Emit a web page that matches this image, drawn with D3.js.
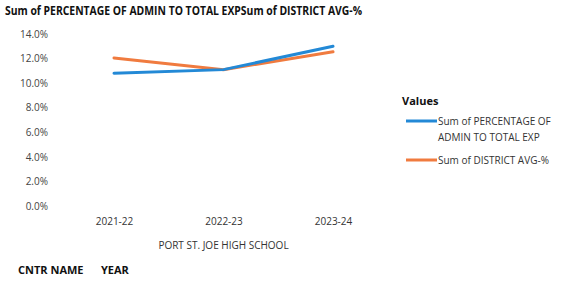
<!DOCTYPE html>
<html><head><meta charset="utf-8">
<script src="https://cdn.jsdelivr.net/npm/d3@7"></script>
<style>body{margin:0;background:#fff}text{font-family:"Open Sans","Liberation Sans",sans-serif}</style>
</head><body>
<svg id="c" width="571" height="287"></svg>
<script>
const categories = ["2021-22","2022-23","2023-24"];
const adminPct = [10.8, 11.1, 13.0];
const districtAvg = [12.05, 11.1, 12.55];
const seriesNames = ["Sum of PERCENTAGE OF ADMIN TO TOTAL EXP","Sum of DISTRICT AVG-%"];
const yTicks = [0,2,4,6,8,10,12,14];
const groupLabel = "PORT ST. JOE HIGH SCHOOL";
const colors = ["#2389d6","#f07b3f"];

const svg = d3.select("#c");
const x = d3.scalePoint().domain(categories).range([114,333]);
const y = d3.scaleLinear().domain([0,14]).range([206,34]);

svg.append("text").attr("x",5).attr("y",15).attr("font-size",12).attr("font-weight","bold")
  .attr("fill","#111").attr("textLength",357).attr("lengthAdjust","spacingAndGlyphs")
  .text(seriesNames[0]+seriesNames[1]);

const ya = svg.append("g").attr("transform","translate(48,0)")
  .call(d3.axisLeft(y).tickValues(yTicks).tickSize(0).tickPadding(0).tickFormat(d=>d.toFixed(1)+"%"));
ya.select(".domain").remove();
ya.selectAll("text").attr("font-size",10).attr("fill","#444").attr("font-family","'Open Sans',sans-serif");

const xa = svg.append("g").attr("transform","translate(0,218)")
  .call(d3.axisBottom(x).tickSize(0).tickPadding(0));
xa.select(".domain").remove();
xa.selectAll("text").attr("font-size",10).attr("fill","#333").attr("dy","0.71em").attr("font-family","'Open Sans',sans-serif");

svg.append("text").attr("x",x(categories[1])).attr("y",249).attr("text-anchor","middle")
  .attr("font-size",10).attr("fill","#333").text(groupLabel);

svg.append("text").attr("x",18).attr("y",274).attr("font-size",11).attr("font-weight","bold").attr("fill","#111").text("CNTR NAME");
svg.append("text").attr("x",101).attr("y",274).attr("font-size",11).attr("font-weight","bold").attr("fill","#111").text("YEAR");

const line = d3.line().x((d,i)=>x(categories[i])).y(d=>y(d));
[districtAvg, adminPct].forEach((s,k)=>{
  svg.append("path").attr("d",line(s)).attr("fill","none")
    .attr("stroke",colors[1-k]).attr("stroke-width",3).attr("stroke-linecap","round");
});

// legend
svg.append("text").attr("x",402).attr("y",105).attr("font-size",11).attr("font-weight","bold").attr("fill","#111").text("Values");
const lg = [{c:colors[0],lines:["Sum of PERCENTAGE OF","ADMIN TO TOTAL EXP"],y:121},{c:colors[1],lines:["Sum of DISTRICT AVG-%"],y:160}];
lg.forEach(d=>{
  svg.append("line").attr("x1",406).attr("x2",437).attr("y1",d.y).attr("y2",d.y).attr("stroke",d.c).attr("stroke-width",3);
  d.lines.forEach((t,i)=>svg.append("text").attr("x",438).attr("y",d.y+4+i*16).attr("font-size",10).attr("fill","#333").text(t));
});
</script>
</body></html>
